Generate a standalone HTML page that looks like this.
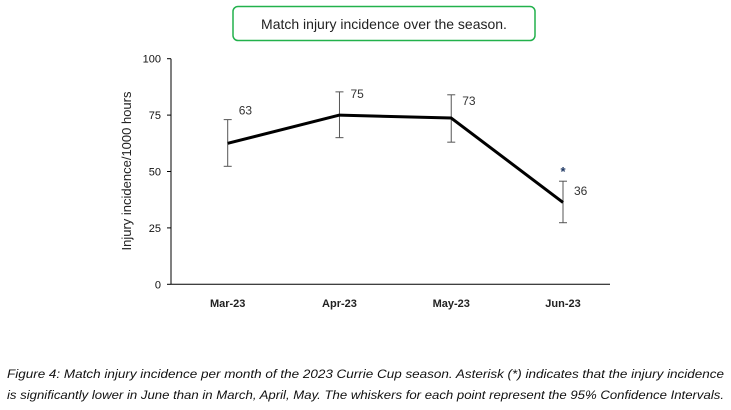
<!DOCTYPE html>
<html><head><meta charset="utf-8"><style>
html,body{margin:0;padding:0;background:#fff;}
svg{display:block;font-family:"Liberation Sans",sans-serif;}
</style></head><body>
<svg id="chart" width="731" height="410" viewBox="0 0 731 410">
  <rect x="233" y="6.5" width="302" height="34" rx="5" fill="#fff" stroke="#22b14c" stroke-width="1.5"/>
  <text x="384" y="29" text-anchor="middle" font-size="14" fill="#222">Match injury incidence over the season.</text>
  <g id="axes"></g>
  <g id="marks"></g>
  <text transform="translate(131,171) rotate(-90)" text-anchor="middle" font-size="13" fill="#222">Injury incidence/1000 hours</text>
  <text x="7" y="378" font-size="12.3" font-style="italic" fill="#111" textLength="717" lengthAdjust="spacingAndGlyphs">Figure 4: Match injury incidence per month of the 2023 Currie Cup season. Asterisk (*) indicates that the injury incidence</text>
  <text x="7" y="399" font-size="12.3" font-style="italic" fill="#111" textLength="717" lengthAdjust="spacingAndGlyphs">is significantly lower in June than in March, April, May. The whiskers for each point represent the 95% Confidence Intervals.</text>
</svg>
<script>
const categories = ["Mar-23","Apr-23","May-23","Jun-23"];
const values = [62.5, 75, 73.7, 36.3];
const valueLabels = ["63","75","73","36"];
const ciUpper = [73, 85.3, 84, 45.7];
const ciLower = [52.3, 65, 63, 27.3];
const yTicks = [0,25,50,75,100];
const significant = [false,false,false,true];

const NS = "http://www.w3.org/2000/svg";
const x0 = 171, xEnd = 610, yTop = 58.7, yBot = 284.3, yMax = 100;
const labelDy = [-5, 6, 10, 14];
function yScale(v){ return yBot - (v / yMax) * (yBot - yTop); }
function xScale(i){ return 227.7 + i * (563 - 227.7) / (categories.length - 1); }
function mk(tag, attrs, parent){ const e = document.createElementNS(NS, tag); for (const k in attrs) e.setAttribute(k, attrs[k]); parent.appendChild(e); return e; }

const axes = document.getElementById('axes');
const marks = document.getElementById('marks');
let yl = mk('line', {x1:x0, y1:yTop, x2:x0, y2:yBot, stroke:'#000', 'stroke-width':1}, axes);


let xl = mk('line', {x1:x0, y1:yBot, x2:xEnd, y2:yBot, stroke:'#000', 'stroke-width':1}, axes);


yTicks.forEach(t => {
  const y = yScale(t);
  let tk = mk('line', {x1:x0-4, y1:y, x2:x0, y2:y, stroke:'#000'}, axes);
  
  
  let tl = mk('text', {x:x0-10, y:y+4, 'text-anchor':'end', 'font-size':11, fill:'#111'}, axes);
  tl.textContent = t;
  
  
});
categories.forEach((c, i) => {
  let t = mk('text', {x:xScale(i), y:307, 'text-anchor':'middle', 'font-size':11, 'font-weight':'bold', fill:'#222'}, axes);
  t.textContent = c;
  
  
});
categories.forEach((c, i) => {
  const x = xScale(i), yu = yScale(ciUpper[i]), yd = yScale(ciLower[i]);
  const g = mk('g', {stroke:'#555', 'stroke-width':1}, marks);
  
  
  mk('line', {x1:x, y1:yu, x2:x, y2:yd}, g);
  mk('line', {x1:x-4, y1:yu, x2:x+4, y2:yu}, g);
  mk('line', {x1:x-4, y1:yd, x2:x+4, y2:yd}, g);
});
let pts = values.map((v, i) => xScale(i) + ',' + yScale(v)).join(' ');
let line = mk('polyline', {points:pts, fill:'none', stroke:'#000', 'stroke-width':3, 'stroke-linejoin':'round'}, marks);


values.forEach((v, i) => {
  let t = mk('text', {x:xScale(i)+11, y:yScale(ciUpper[i]) + labelDy[i], 'font-size':12, fill:'#333'}, marks);
  t.textContent = valueLabels[i];
  
  
  if (significant[i]) {
    let s = mk('text', {x:xScale(i), y:yScale(ciUpper[i])-5, 'text-anchor':'middle', 'font-size':13, 'font-weight':'bold', fill:'#1f3864'}, marks);
    s.textContent = '*';
    
    
  }
});
</script>
</body></html>
